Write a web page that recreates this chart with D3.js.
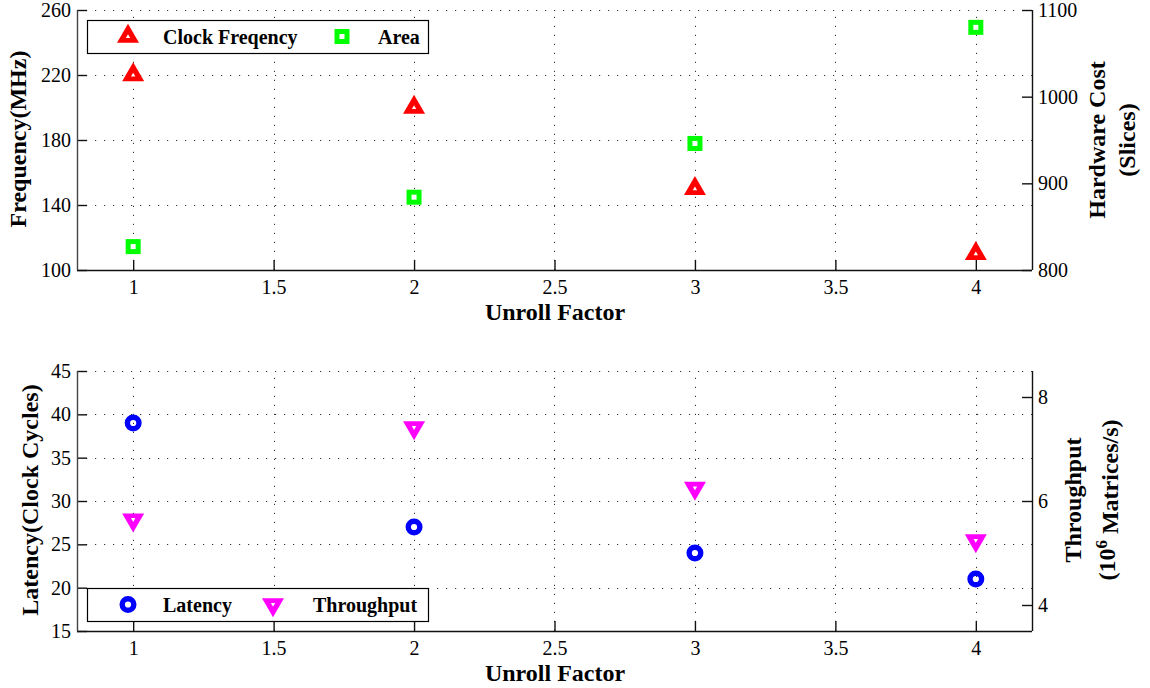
<!DOCTYPE html>
<html>
<head>
<meta charset="utf-8">
<script src="https://cdn.jsdelivr.net/npm/d3@7"></script>
<style>
  html, body { margin: 0; padding: 0; background: #fff; }
  svg { display: block; }
  svg text { font-family: "Liberation Serif", "Times New Roman", Times, serif; fill: #000; }
</style>
</head>
<body>
<svg id="chart" width="1150" height="688"></svg>
<script>
// ---- data ----
const unrollFactors = [1, 2, 3, 4];
const clockFrequency = [220, 200, 150, 110];      // MHz (left axis, top)
const areaSlices = [827, 884, 946, 1080];         // slices (right axis, top)
const latencyCycles = [39, 27, 24, 21];           // clock cycles (left axis, bottom)
const throughputM = [5.64, 7.41, 6.25, 5.24];     // 10^6 matrices/s (right axis, bottom)

const xTicks = [1, 1.5, 2, 2.5, 3, 3.5, 4];
const freqTicks = [100, 140, 180, 220, 260];
const areaTicks = [800, 900, 1000, 1100];
const latencyTicks = [15, 20, 25, 30, 35, 40, 45];
const throughputTicks = [4, 6, 8];

const xDomain = [0.8, 4.2];
const freqDomain = [100, 260];
const areaDomain = [800, 1100];
const latencyDomain = [15, 45];
const throughputDomain = [3.5, 8.5];

// ---- layout ----
const SERIF = '"Liberation Serif", "Times New Roman", Times, serif';
const svg = d3.select("#chart");
const L = 77, R = 1032;
const panels = [
  { top: 10, bottom: 270 },
  { top: 371, bottom: 631 }
];
const x = d3.scaleLinear().domain(xDomain).range([L, R]);
const fmt = d => String(d);
const TICK_FONT = 20;

function drawPanel(p, leftDomain, leftTicks, rightDomain, rightTicks) {
  const yL = d3.scaleLinear().domain(leftDomain).range([p.bottom, p.top]);
  const yR = d3.scaleLinear().domain(rightDomain).range([p.bottom, p.top]);
  const g = svg.append("g");

  // grid
  const grid = g.append("g").attr("stroke", "#333").attr("stroke-width", 1)
    .attr("stroke-dasharray", "1.2,7.8");
  grid.selectAll("line.v").data(xTicks).join("line")
    .attr("x1", d => Math.round(x(d)) + 0.5).attr("x2", d => Math.round(x(d)) + 0.5)
    .attr("y1", p.bottom).attr("y2", p.top);
  grid.selectAll("line.h").data(leftTicks.filter(t => t !== leftDomain[0])).join("line")
    .attr("y1", d => Math.round(yL(d)) + 0.5).attr("y2", d => Math.round(yL(d)) + 0.5)
    .attr("x1", L).attr("x2", R);

  // bottom axis (ticks inward)
  const ax = g.append("g").attr("transform", `translate(0,${p.bottom})`)
    .call(d3.axisBottom(x).tickValues(xTicks).tickFormat(fmt).tickSize(-10).tickPadding(10));
  ax.select(".domain").remove();
  g.append("line").attr("x1", L).attr("x2", R).attr("y1", p.bottom + 0.5).attr("y2", p.bottom + 0.5)
    .attr("stroke", "#111").attr("stroke-width", 1.4);

  // left axis
  const al = g.append("g").attr("transform", `translate(${L},0)`)
    .call(d3.axisLeft(yL).tickValues(leftTicks).tickFormat(fmt).tickSize(-10).tickPadding(6));
  al.select(".domain").remove();
  g.append("line").attr("x1", L + 0.5).attr("x2", L + 0.5).attr("y1", p.top).attr("y2", p.bottom)
    .attr("stroke", "#444").attr("stroke-width", 1.4);

  // right axis
  const ar = g.append("g").attr("transform", `translate(${R},0)`)
    .call(d3.axisRight(yR).tickValues(rightTicks).tickFormat(fmt).tickSize(-10).tickPadding(6));
  ar.select(".domain").remove();
  g.append("line").attr("x1", R + 0.5).attr("x2", R + 0.5).attr("y1", p.top).attr("y2", p.bottom)
    .attr("stroke", "#111").attr("stroke-width", 1.4);

  [ax, al, ar].forEach(a => {
    a.attr("font-family", SERIF).attr("font-size", TICK_FONT);
    a.selectAll(".tick line").attr("stroke", "#111").attr("stroke-width", 1.4);
    a.selectAll(".tick text").attr("font-size", TICK_FONT).attr("font-family", SERIF)
      .style("font-family", SERIF).attr("fill", "#000");
  });
  return { yL, yR, g };
}

// ---- marker shapes ----
function triUp(sel, cx, cy, color) {
  const w = 11, h = 19;
  sel.append("path").attr("d", `M${cx},${cy - 2 * h / 3}L${cx + w},${cy + h / 3}L${cx - w},${cy + h / 3}Z`).attr("fill", color);
  sel.append("path").attr("d", `M${cx},${cy - 2.2}L${cx + 2.2},${cy + 1.6}L${cx - 2.2},${cy + 1.6}Z`).attr("fill", "#fff");
}
function triDown(sel, cx, cy, color) {
  const w = 11, h = 19;
  sel.append("path").attr("d", `M${cx},${cy + 2 * h / 3}L${cx + w},${cy - h / 3}L${cx - w},${cy - h / 3}Z`).attr("fill", color);
  sel.append("path").attr("d", `M${cx},${cy + 2.2}L${cx + 2.2},${cy - 1.6}L${cx - 2.2},${cy - 1.6}Z`).attr("fill", "#fff");
}
function square(sel, cx, cy, color) {
  sel.append("rect").attr("x", cx - 7.5).attr("y", cy - 7.5).attr("width", 15).attr("height", 15).attr("fill", color);
  sel.append("rect").attr("x", cx - 2.5).attr("y", cy - 2.5).attr("width", 5).attr("height", 5).attr("fill", "#fff");
}
function ring(sel, cx, cy, color) {
  sel.append("circle").attr("cx", cx).attr("cy", cy).attr("r", 5.8).attr("fill", "none")
    .attr("stroke", color).attr("stroke-width", 5.4);
}

const RED = "#ff0000", GREEN = "#00ff00", BLUE = "#0000ff", MAGENTA = "#ff00ff";

// ---- top panel ----
const topPanel = drawPanel(panels[0], freqDomain, freqTicks, areaDomain, areaTicks);
const mTop = svg.append("g");
unrollFactors.forEach((u, i) => square(mTop, x(u), topPanel.yR(areaSlices[i]), GREEN));
unrollFactors.forEach((u, i) => triUp(mTop, x(u), topPanel.yL(clockFrequency[i]), RED));

// ---- bottom panel ----
const botPanel = drawPanel(panels[1], latencyDomain, latencyTicks, throughputDomain, throughputTicks);
const mBot = svg.append("g");
unrollFactors.forEach((u, i) => ring(mBot, x(u), botPanel.yL(latencyCycles[i]), BLUE));
unrollFactors.forEach((u, i) => triDown(mBot, x(u), botPanel.yR(throughputM[i]), MAGENTA));

// ---- legends ----
function legend(y0, items) {
  const g = svg.append("g");
  g.append("rect").attr("x", 87.5).attr("y", y0 + 0.5).attr("width", 341).attr("height", 33)
    .attr("fill", "#fff").attr("stroke", "#000").attr("stroke-width", 1.2);
  items.forEach(it => {
    it.draw(g, it.mx, y0 + 16.5, it.color);
    g.append("text").attr("x", it.tx).attr("y", y0 + 23.5)
      .attr("font-family", SERIF).attr("font-size", 20).attr("font-weight", "bold").text(it.label);
  });
}
legend(20, [
  { draw: triUp, color: RED, mx: 128, tx: 163, label: "Clock Freqency" },
  { draw: square, color: GREEN, mx: 342, tx: 378, label: "Area" }
]);
legend(588, [
  { draw: ring, color: BLUE, mx: 128, tx: 163, label: "Latency" },
  { draw: triDown, color: MAGENTA, mx: 273, tx: 313, label: "Throughput" }
]);

// ---- axis titles ----
const TITLE_FONT = 24;
function vtext(cx, cy, str) {
  return svg.append("text").attr("transform", `translate(${cx},${cy}) rotate(-90)`)
    .attr("text-anchor", "middle").attr("dy", "0.33em").attr("font-family", SERIF)
    .attr("font-size", TITLE_FONT).attr("font-weight", "bold").text(str);
}
svg.append("text").attr("x", 555).attr("y", 320).attr("text-anchor", "middle").attr("font-family", SERIF)
  .attr("font-size", TITLE_FONT).attr("font-weight", "bold").text("Unroll Factor");
svg.append("text").attr("x", 555).attr("y", 681).attr("text-anchor", "middle").attr("font-family", SERIF)
  .attr("font-size", TITLE_FONT).attr("font-weight", "bold").text("Unroll Factor");

vtext(18, 139, "Frequency(MHz)");
vtext(1097, 140, "Hardware Cost");
vtext(1127, 140, "(Slices)");
vtext(30, 500, "Latency(Clock Cycles)");
vtext(1073, 500, "Throughput");
const t2 = svg.append("text").attr("transform", `translate(1107,500) rotate(-90)`)
  .attr("text-anchor", "middle").attr("dy", "0.33em").attr("font-family", SERIF)
  .attr("font-size", TITLE_FONT).attr("font-weight", "bold");
t2.append("tspan").text("(10");
t2.append("tspan").attr("dy", "-0.45em").attr("font-size", 17).text("6");
t2.append("tspan").attr("dy", "0.45em").text(" Matrices/s)");
</script>
</body>
</html>
